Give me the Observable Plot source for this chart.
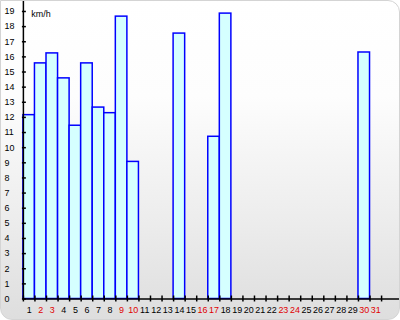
<!DOCTYPE html>
<html>
<head>
<meta charset="utf-8">
<script src="https://cdn.jsdelivr.net/npm/d3@7"></script>
<script src="https://cdn.jsdelivr.net/npm/@observablehq/plot@0.6"></script>
<style>
  html, body { margin: 0; padding: 0; background: #fff; }
  #chart { width: 400px; height: 320px; position: relative; }
  #chart svg {
    display: block;
    box-sizing: border-box;
    border: 1px solid #d4d4d4;
    border-radius: 0 12px 12px 12px;
    background: linear-gradient(to bottom, #ffffff 0%, #fdfdfd 30%, #ececec 70%, #dedede 100%);
  }
</style>
</head>
<body>
<div id="chart"></div>
<script>
const days = d3.range(1, 32);
const speeds = [12.15, 15.57, 16.23, 14.58, 11.45, 15.57, 12.65, 12.28, 18.66, 9.06,
  null, null, null, 17.54, null, null, 10.72, 18.86, null, null,
  null, null, null, null, null, null, null, null, null, 16.29, null];
const redDays = [2, 3, 9, 10, 16, 17, 23, 24, 30, 31];
const yTicks = d3.range(0, 20);
const unitLabel = "km/h";

const data = days.map((d, i) => ({day: d, value: speeds[i]})).filter(d => d.value != null);
const boundaries = days.map(d => d - 0.5).concat([31.5]);

const font = "'Liberation Sans', Arial, sans-serif";

const chart = Plot.plot({
  width: 400,
  height: 320,
  marginLeft: 22,
  marginRight: 0,
  marginTop: 0,
  marginBottom: 21,
  style: {fontFamily: font, fontSize: "9px", color: "#000", overflow: "visible"},
  x: {domain: [0.5, 33.05], axis: null},
  y: {domain: [0, 19.66], axis: null},
  marks: [
    Plot.rectY(data, {x1: d => d.day - 0.5, x2: d => d.day + 0.5, y: "value",
      fill: "#d5ffff", stroke: "#0000ff", strokeWidth: 1.5}),
    Plot.ruleX([0.5], {stroke: "#000", strokeWidth: 1.5}),
    Plot.ruleY([0], {stroke: "#000", strokeWidth: 1.5}),
    Plot.axisY({ticks: yTicks, label: null, tickSize: 4, tickPadding: 18, dx: 3, textAnchor: "start",
      stroke: "#000", strokeWidth: 1.5, fill: "#000", fontSize: 9, tickFormat: d => String(d)}),
    Plot.axisX({ticks: boundaries, label: null, tickSize: 6, dy: -3, tickFormat: () => "",
      stroke: "#000", strokeWidth: 1.5}),
    Plot.text(days, {x: d => d, y: 0, dy: 11, text: d => String(d),
      fill: d => redDays.includes(d) ? "#e00000" : "#000", fontSize: 9}),
    Plot.text([unitLabel], {frameAnchor: "top-left", dx: 8, dy: 9, textAnchor: "start", fontSize: 9, fill: "#000"})
  ]
});
document.getElementById("chart").appendChild(chart);
</script>
</body>
</html>
